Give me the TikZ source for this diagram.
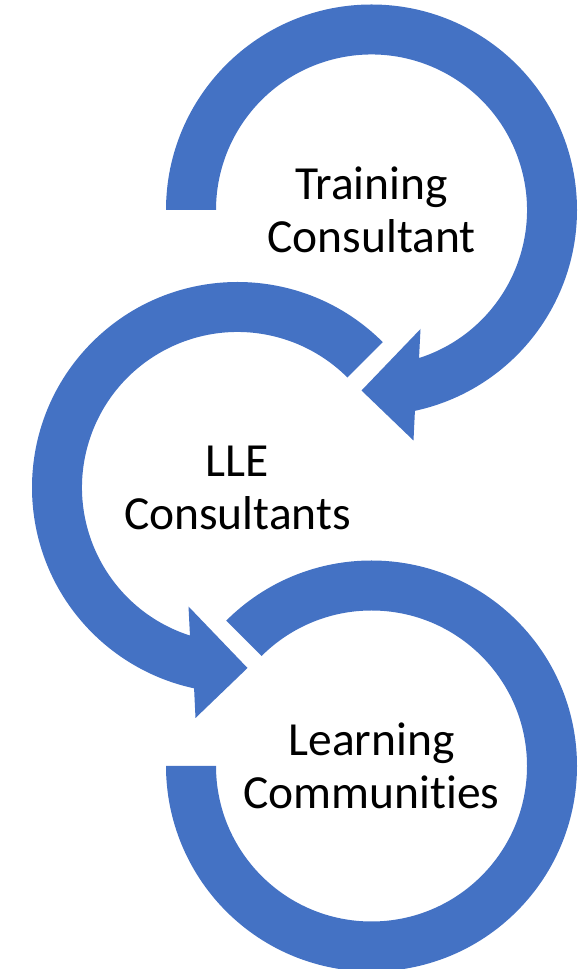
\documentclass[tikz,border=0pt]{standalone}
\usepackage{fontspec}
\setmainfont[Ligatures=NoCommon]{Carlito}
\usetikzlibrary{calc}
\definecolor{arrowblue}{HTML}{4472C4}

\begin{document}
\begin{tikzpicture}[x=1pt, y=1pt,
  arrowband/.style={fill=arrowblue},
  cycletext/.style={align=center, text=black, font=\fontsize{47.5}{53}\selectfont}]
\useasboundingbox (0,0) rectangle (585,969);
\coordinate (c1) at (371.5,759);
\coordinate (c2) at (237.5,481.5);
\coordinate (c3) at (371.5,203);
% top ring, clockwise, head at the bottom
\fill[arrowband] ($(c1)+(180:205.5)$) arc[start angle=180, end angle=-77.8, radius=205.5]
  -- ($(c1)+(42,-230.5)$) -- ($(c1)+(-10,-180.5)$) -- ($(c1)+(49,-119)$)
  -- ($(c1)+(-72.2:155.5)$) arc[start angle=-72.2, end angle=180, radius=155.5] -- cycle;
% middle ring, counterclockwise
\fill[arrowband] ($(c2)+(45:205.5)$) arc[start angle=45, end angle=257.8, radius=205.5]
  -- ($(c2)+(-42,-230.5)$) -- ($(c2)+(10,-180.5)$) -- ($(c2)+(-49,-119)$)
  -- ($(c2)+(252.2:155.5)$) arc[start angle=252.2, end angle=45, radius=155.5] -- cycle;
% bottom ring, no head
\fill[arrowband] ($(c3)+(135:205.5)$) arc[start angle=135, end angle=-180, radius=205.5]
  -- ($(c3)+(-180:155.5)$) arc[start angle=-180, end angle=135, radius=155.5] -- cycle;
\node[cycletext] (training) at (c1) {Training\\Consultant};
\node[cycletext] (lle) at (c2) {LLE\\Consultants};
\node[cycletext] (learning) at (c3) {Learning\\Communities};
\end{tikzpicture}
\end{document}
